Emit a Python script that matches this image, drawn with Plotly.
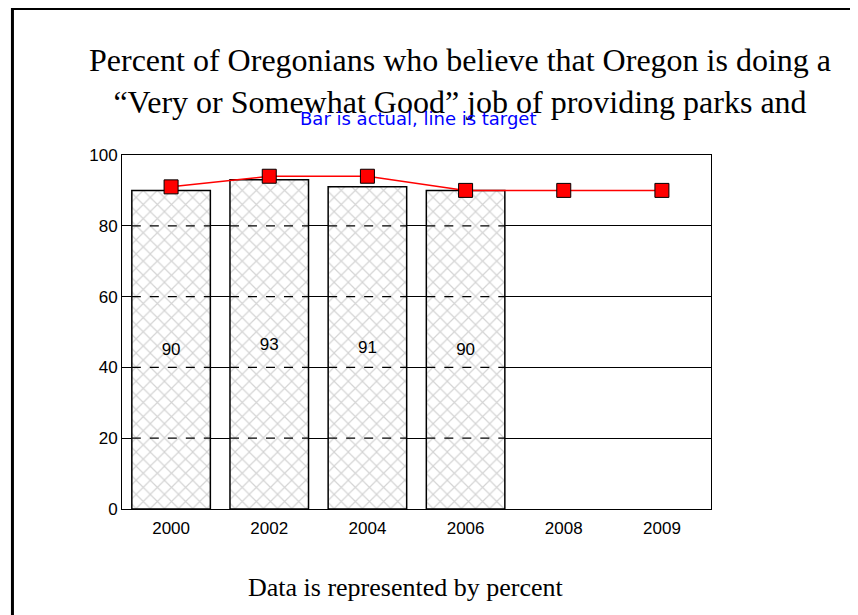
import plotly.graph_objects as go

years = ["2000", "2002", "2004", "2006", "2008", "2009"]
actual = [90, 93, 91, 90]
target = [91, 94, 94, 90, 90, 90]
grid_values = [20, 40, 60, 80]

title_text = ("Percent of Oregonians who believe that Oregon is doing a<br>"
              "\u201cVery or Somewhat Good\u201d job of providing parks and")
subtitle_text = "Bar is actual, line is target"
footer_text = "Data is represented by percent"

chart_font = dict(family="Liberation Sans", size=17, color="black")

fig = go.Figure()
fig.add_trace(go.Bar(
    x=years[:len(actual)], y=actual, width=0.8,
    text=[str(v) for v in actual], textposition="inside",
    insidetextanchor="middle", textangle=0,
    textfont=chart_font,
    marker=dict(color="white", line=dict(color="black", width=1.5),
                pattern=dict(shape="x", fgcolor="#a9a9a9", bgcolor="white",
                             size=10, solidity=0.22)),
    showlegend=False,
))
fig.add_trace(go.Scatter(
    x=years, y=target, mode="lines+markers",
    line=dict(color="red", width=1.5),
    marker=dict(symbol="square", size=14, color="red",
                line=dict(color="black", width=1)),
    showlegend=False,
))

# gridlines look dashed where they cross the hatched bars
for i, val in enumerate(actual):
    for g in grid_values:
        if g < val:
            fig.add_shape(type="line", xref="x", yref="y", layer="above",
                          x0=i - 0.4, x1=i + 0.4, y0=g, y1=g,
                          line=dict(color="black", width=1.2, dash="dash"))

# outer frame of the slide
fig.add_shape(type="rect", xref="paper", yref="paper",
              x0=-0.186, x1=1.3, y0=-0.5, y1=1.414,
              line=dict(color="black", width=3))

fig.add_annotation(text=title_text, xref="paper", yref="paper",
                   x=0.574, y=1.21, xanchor="center", yanchor="middle",
                   align="center", showarrow=False,
                   font=dict(family="Liberation Serif", size=32, color="black"))
fig.add_annotation(text=subtitle_text, xref="paper", yref="paper",
                   x=0.503, y=1.102, xanchor="center", yanchor="middle",
                   showarrow=False,
                   font=dict(family="DejaVu Sans", size=18, color="blue"))
fig.add_annotation(text=footer_text, xref="paper", yref="paper",
                   x=0.482, y=-0.223, xanchor="center", yanchor="middle",
                   showarrow=False,
                   font=dict(family="Liberation Serif", size=26, color="black"))

fig.update_layout(
    width=850, height=607,
    margin=dict(l=114, r=147, t=147, b=106),
    paper_bgcolor="white", plot_bgcolor="white",
    bargap=0.2,
    xaxis=dict(type="category", categoryorder="array", categoryarray=years,
               range=[-0.5, 5.5],
               showline=True, linecolor="black", linewidth=1, mirror=True,
               showgrid=False, ticks="", ticklabelstandoff=4,
               tickfont=chart_font),
    yaxis=dict(range=[0, 100], tickvals=[0, 20, 40, 60, 80, 100],
               showline=True, linecolor="black", linewidth=1, mirror=True,
               showgrid=True, gridcolor="black", gridwidth=1, zeroline=False,
               ticks="", tickfont=chart_font),
)

fig.write_html("out.html")
